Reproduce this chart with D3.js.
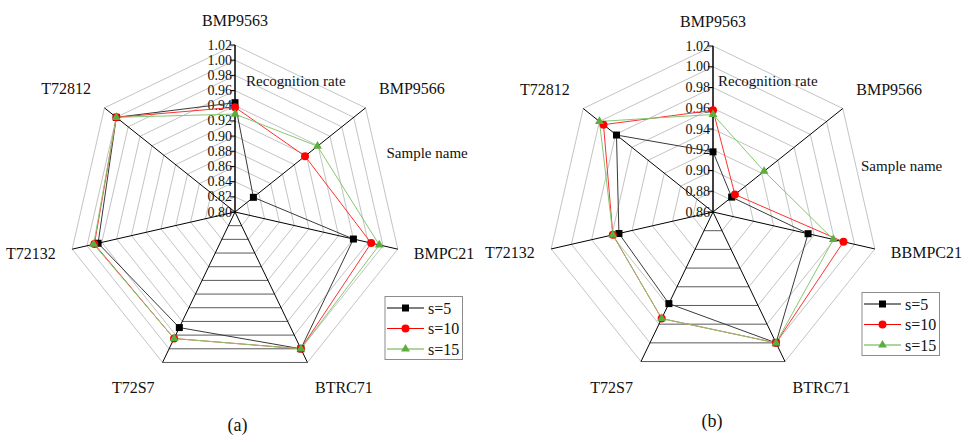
<!DOCTYPE html>
<html>
<head>
<meta charset="utf-8">
<script src="https://cdn.jsdelivr.net/npm/d3@7"></script>
<style>
  body { margin: 0; background: #fff; font-family: "Liberation Serif", "DejaVu Serif", serif; }
  svg { display: block; }
</style>
</head>
<body>
<div class="radar-container"></div>
<script>
// sample names on the seven axes (clockwise from top)
const categoriesA = ['BMP9563', 'BMP9566', 'BMPC21', 'BTRC71', 'T72S7', 'T72132', 'T72812'];
const categoriesB = ['BMP9563', 'BMP9566', 'BBMPC21', 'BTRC71', 'T72S7', 'T72132', 'T72812'];
const seriesNames = ['s=5', 's=10', 's=15'];

// recognition rate, panel (a)
const s5A  = [0.944, 0.831, 0.960, 1.000, 0.969, 0.985, 1.000];
const s10A = [0.938, 0.918, 0.984, 1.000, 0.985, 0.990, 1.000];
const s15A = [0.929, 0.939, 0.995, 1.000, 0.985, 0.991, 1.000];

// recognition rate, panel (b)
const s5B  = [0.918, 0.883, 0.954, 1.000, 0.958, 0.953, 0.979];
const s10B = [0.958, 0.887, 0.989, 1.000, 0.974, 0.959, 0.995];
const s15B = [0.954, 0.923, 0.979, 1.000, 0.974, 0.959, 1.000];

// value axis ticks
const ticksA = ['0.80', '0.82', '0.84', '0.86', '0.88', '0.90', '0.92', '0.94', '0.96', '0.98', '1.00', '1.02'];
const ticksB = ['0.86', '0.88', '0.90', '0.92', '0.94', '0.96', '0.98', '1.00', '1.02'];

const FONT = '"Liberation Serif", "DejaVu Serif", serif';

// look of each series
const seriesStyle = [
    { line: '#3a3a3a', fill: '#000000', symbol: d3.symbolSquare, size: 49 },
    { line: '#ff3030', fill: '#ff0000', symbol: d3.symbolCircle, size: 50 },
    { line: '#86c873', fill: '#5cae3e', symbol: d3.symbolTriangle, size: 34 }
];

// where each category label sits relative to its axis end
const labelPlace = [
    { dx: 0, dy: -24.5, anchor: 'middle' },
    { dx: 13.5, dy: -19, anchor: 'start' },
    { dx: 16, dy: 4, anchor: 'start' },
    { dx: 7.5, dy: 25.5, anchor: 'start' },
    { dx: -8, dy: 25.5, anchor: 'end' },
    { dx: -16.5, dy: 4, anchor: 'end' },
    { dx: -13.5, dy: -19, anchor: 'end' }
];

const svg = d3.select('.radar-container').append('svg')
    .attr('width', 966).attr('height', 435)
    .attr('font-family', FONT)
    .style('font-family', FONT);

function addText(parent) {
    return parent.append('text').style('font-family', FONT).style('fill', '#111');
}

function drawRadar(cfg) {
    const n = cfg.categories.length;
    const ticks = cfg.ticks.map(d => +d);
    const rScale = d3.scaleLinear().domain(d3.extent(ticks)).range([0, cfg.radius]);
    const angle = i => i * 2 * Math.PI / n;
    const pt = (i, v) => d3.pointRadial(angle(i % n), rScale(v));

    const g = svg.append('g').attr('transform', `translate(${cfg.cx},${cfg.cy})`);

    //grid rings, drawn edge by edge (bottom wedge is dark in the original)
    const segs = [];
    ticks.slice(1).forEach(t => d3.range(n).forEach(i => segs.push({ t: t, i: i })));
    segs.sort((a, b) => (a.i === 3) - (b.i === 3));
    g.append('g').attr('class', 'grid')
        .selectAll('line').data(segs).enter().append('line')
        .attr('x1', d => pt(d.i, d.t)[0]).attr('y1', d => pt(d.i, d.t)[1])
        .attr('x2', d => pt(d.i + 1, d.t)[0]).attr('y2', d => pt(d.i + 1, d.t)[1])
        .style('stroke', d => d.i === 3 ? '#5a5a5a' : '#c4c4c4')
        .style('stroke-width', 1);

    //spokes
    const top = ticks[ticks.length - 1];
    g.append('g').attr('class', 'spokes')
        .selectAll('line').data(d3.range(n)).enter().append('line')
        .attr('x1', 0).attr('y1', 0)
        .attr('x2', i => pt(i, top)[0]).attr('y2', i => pt(i, top)[1])
        .style('stroke', '#000')
        .style('stroke-width', i => i === 0 ? 1.5 : 1);

    //value axis ticks and labels on the top spoke
    const axis = g.append('g').attr('class', 'value-axis');
    axis.selectAll('line').data(ticks).enter().append('line')
        .attr('x1', -5).attr('x2', 0)
        .attr('y1', d => -rScale(d)).attr('y2', d => -rScale(d))
        .style('stroke', '#000');
    axis.selectAll('text').data(cfg.ticks).enter().append('text')
        .attr('x', -3).attr('y', d => -rScale(+d))
        .attr('text-anchor', 'end').attr('dominant-baseline', 'central')
        .style('font-family', FONT).style('font-size', '14px').style('fill', '#111')
        .text(d => d);

    //category labels
    g.append('g').attr('class', 'cat-labels')
        .selectAll('text').data(cfg.categories).enter().append('text')
        .attr('x', (d, i) => pt(i, top)[0] + labelPlace[i].dx)
        .attr('y', (d, i) => pt(i, top)[1] + labelPlace[i].dy)
        .attr('text-anchor', (d, i) => labelPlace[i].anchor)
        .attr('dominant-baseline', 'central')
        .style('font-family', FONT).style('font-size', '16px').style('fill', '#111')
        .text(d => d);

    //series polygons and markers
    const lineGen = d3.line()
        .x((d, i) => pt(i, d)[0]).y((d, i) => pt(i, d)[1])
        .curve(d3.curveLinearClosed);
    const series = g.append('g').attr('class', 'series');
    cfg.values.forEach((vals, k) => {
        series.append('path')
            .attr('d', lineGen(vals))
            .style('fill', 'none').style('stroke', seriesStyle[k].line).style('stroke-width', 1);
    });
    cfg.values.forEach((vals, k) => {
        const st = seriesStyle[k];
        series.selectAll(`.mk${k}`).data(vals).enter().append('path')
            .attr('class', `mk${k}`)
            .attr('transform', (d, i) => `translate(${pt(i, d)[0]},${pt(i, d)[1]})`)
            .attr('d', d3.symbol().type(st.symbol).size(st.size))
            .style('fill', st.fill);
    });

    //axis titles
    addText(svg).attr('x', cfg.rateLabel[0]).attr('y', cfg.rateLabel[1])
        .attr('dominant-baseline', 'central')
        .style('font-size', '15px').text('Recognition rate');
    addText(svg).attr('x', cfg.nameLabel[0]).attr('y', cfg.nameLabel[1])
        .attr('dominant-baseline', 'central')
        .style('font-size', '15px').text('Sample name');

    //legend
    const lg = svg.append('g').attr('class', 'legend')
        .attr('transform', `translate(${cfg.legend[0]},${cfg.legend[1]})`);
    lg.append('rect').attr('width', 77.5).attr('height', 63)
        .style('fill', '#fff').style('stroke', '#8c8c8c');
    const rows = lg.selectAll('.row').data(seriesNames).enter().append('g')
        .attr('transform', (d, k) => `translate(0,${11.5 + k * 20.5})`);
    rows.append('line').attr('x1', 2).attr('x2', 39)
        .style('stroke', (d, k) => seriesStyle[k].fill).style('stroke-width', 1.2);
    rows.append('path')
        .attr('transform', 'translate(20.5,0)')
        .attr('d', (d, k) => d3.symbol().type(seriesStyle[k].symbol).size(seriesStyle[k].size)())
        .style('fill', (d, k) => seriesStyle[k].fill);
    rows.append('text').attr('x', 43).attr('dominant-baseline', 'central')
        .style('font-family', FONT).style('font-size', '16px').style('fill', '#111')
        .text(d => d);

    //panel letter
    addText(svg).attr('x', cfg.letter[0]).attr('y', cfg.letter[1])
        .attr('text-anchor', 'middle').attr('dominant-baseline', 'central')
        .style('font-size', '18px')
        .text(cfg.name);
}

drawRadar({
    name: '(a)', cx: 235, cy: 212, radius: 167,
    categories: categoriesA, ticks: ticksA, values: [s5A, s10A, s15A],
    rateLabel: [246, 81], nameLabel: [386.5, 152.5],
    legend: [385, 296.5], letter: [237.5, 425]
});
drawRadar({
    name: '(b)', cx: 713, cy: 212, radius: 166,
    categories: categoriesB, ticks: ticksB, values: [s5B, s10B, s15B],
    rateLabel: [718, 80.5], nameLabel: [861, 166],
    legend: [862, 292.5], letter: [712, 421]
});
</script>
</body>
</html>
